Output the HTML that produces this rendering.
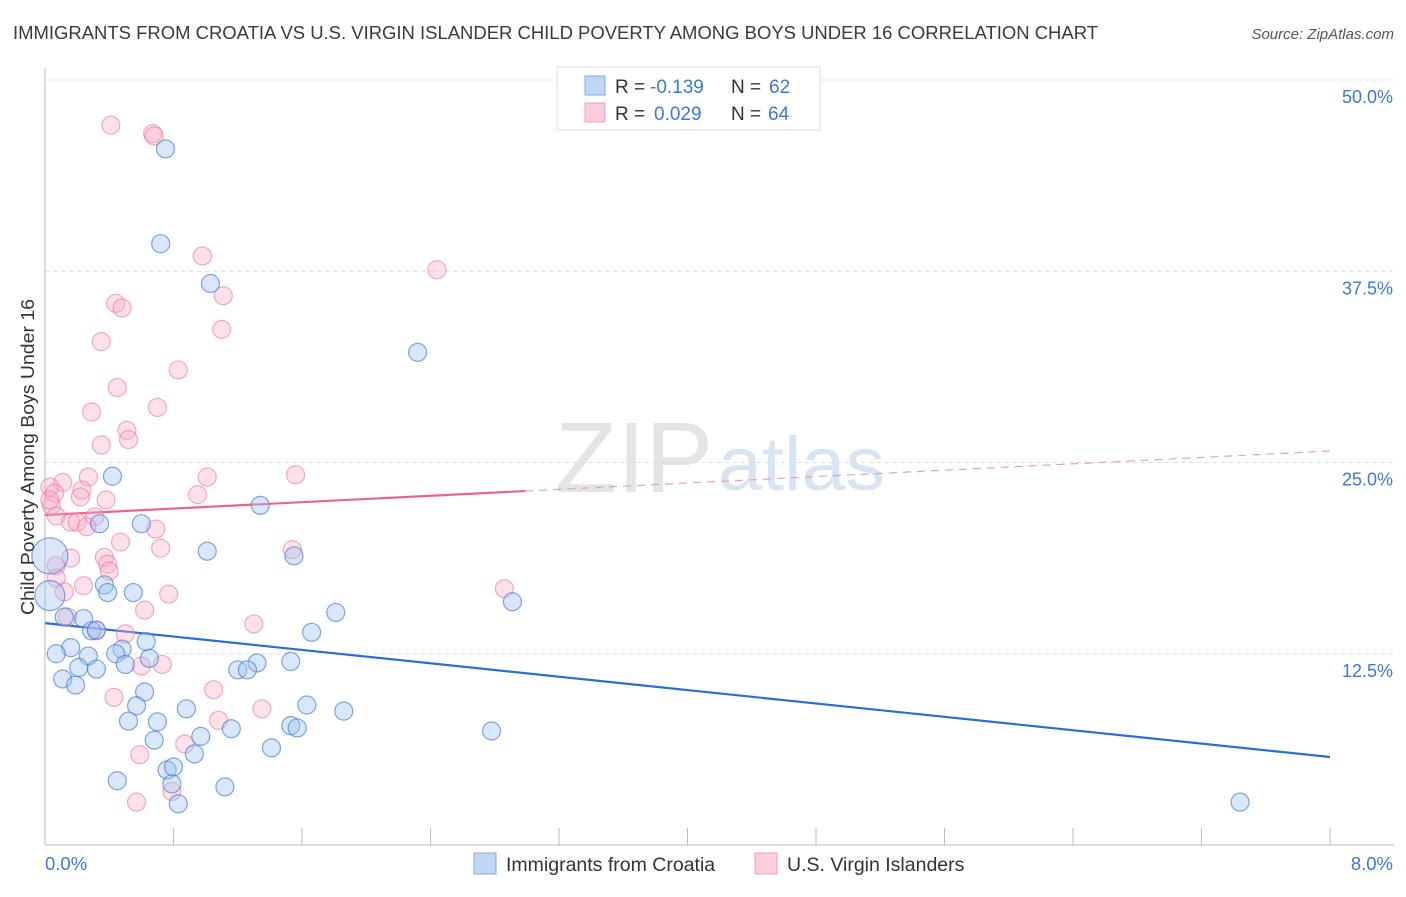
<!DOCTYPE html>
<html><head><meta charset="utf-8"><style>
body{margin:0;background:#fff;font-family:"Liberation Sans",sans-serif}
svg text{font-family:"Liberation Sans",sans-serif}
</style></head><body>
<svg id="chart" width="1406" height="892" xmlns="http://www.w3.org/2000/svg">
<text x="13" y="39" font-size="18" fill="#3a3a3a" textLength="1085" lengthAdjust="spacingAndGlyphs">IMMIGRANTS FROM CROATIA VS U.S. VIRGIN ISLANDER CHILD POVERTY AMONG BOYS UNDER 16 CORRELATION CHART</text>
<text x="1394" y="39" font-size="15" fill="#555" font-style="italic" text-anchor="end">Source: ZipAtlas.com</text>
<text x="555" y="492" font-size="100" fill="#e4e4e4" font-family="Liberation Serif" textLength="158" lengthAdjust="spacingAndGlyphs">ZIP</text>
<text x="718" y="490" font-size="76" fill="#d6e4f4" textLength="167" lengthAdjust="spacingAndGlyphs">atlas</text>
<g id="grid"></g><g id="axes"></g><g id="trend"></g><g id="pts"></g>
<text transform="translate(34,457) rotate(-90)" font-size="18" fill="#333" text-anchor="middle" textLength="316" lengthAdjust="spacingAndGlyphs">Child Poverty Among Boys Under 16</text>
<g>
<rect x="557" y="67" width="263" height="63" fill="#fff" stroke="#ddd"/>
<rect x="585" y="76" width="20" height="19" fill="#c0d6f5" stroke="#7fa8e0"/>
<rect x="585" y="103" width="20" height="19" fill="#fbccd9" stroke="#f0a0b8"/>
<text x="615" y="93" font-size="19" fill="#333">R =</text>
<text x="650" y="93" font-size="19" fill="#3b78d8">-0.139</text>
<text x="731" y="93" font-size="19" fill="#333">N =</text>
<text x="769" y="93" font-size="19" fill="#3b78d8">62</text>
<text x="615" y="120" font-size="19" fill="#333">R =</text>
<text x="654" y="120" font-size="19" fill="#3b78d8">0.029</text>
<text x="731" y="120" font-size="19" fill="#333">N =</text>
<text x="768" y="120" font-size="19" fill="#3b78d8">64</text>
</g>
<g>
<rect x="474" y="853" width="22" height="21" fill="#c0d6f5" stroke="#7fa8e0"/>
<text x="506" y="871" font-size="19.5" fill="#333">Immigrants from Croatia</text>
<rect x="755" y="853" width="22" height="21" fill="#fbccd9" stroke="#f0a0b8"/>
<text x="787" y="871" font-size="19.5" fill="#333">U.S. Virgin Islanders</text>
</g>
</svg>
<script>
const blueX=[0.75,0.72,1.03,2.32,0.42,1.34,0.60,0.34,1.01,1.55,0.03,0.03,0.37,0.55,0.39,2.91,1.81,0.12,0.24,1.66,0.29,0.63,0.16,0.32,0.48,0.07,0.27,0.44,0.65,1.53,1.32,0.21,0.32,0.50,1.20,1.26,0.11,0.19,0.62,1.63,0.88,0.57,1.86,0.52,0.70,1.16,1.53,1.57,2.78,0.97,0.68,0.93,1.41,0.76,0.80,0.45,0.79,1.12,0.83,7.44];
const blueY=[45.5,39.3,36.7,32.2,24.1,22.2,21.0,21.0,19.2,18.9,18.9,16.3,17.0,16.5,16.5,15.9,15.2,14.9,14.8,13.9,14.0,13.3,12.9,14.05,12.8,12.5,12.35,12.5,12.2,12.0,11.9,11.6,11.5,11.8,11.45,11.45,10.85,10.45,10.0,9.15,8.9,9.1,8.75,8.1,8.05,7.6,7.8,7.65,7.45,7.1,6.85,5.95,6.35,4.9,5.1,4.2,4.0,3.8,2.7,2.8];
const blueR=[9,9,9,9,9,9,9,9,9,9,18,15,9,9,9,9,9,9,9,9,9,9,9,9,9,9,9,9,9,9,9,9,9,9,9,9,9,9,9,9,9,9,9,9,9,9,9,9,9,9,9,9,9,9,9,9,9,9,9,9];
const pinkX=[0.41,0.67,0.68,0.98,2.44,1.11,0.44,0.48,0.35,1.10,0.83,0.45,0.29,0.70,0.51,0.35,0.52,1.56,1.01,0.27,0.11,0.03,0.06,0.23,0.38,0.95,0.04,0.22,0.07,0.31,0.16,0.20,0.26,0.69,0.47,0.72,0.37,1.54,0.39,0.40,0.16,0.07,0.24,0.77,0.62,0.12,0.14,0.32,0.50,2.86,1.30,0.60,0.73,1.05,0.43,1.08,1.35,0.87,0.59,0.79,0.57,0.03,0.07];
const pinkY=[47.05,46.5,46.35,38.5,37.6,35.9,35.4,35.1,32.9,33.7,31.05,29.9,28.3,28.6,27.1,26.15,26.5,24.2,24.05,24.05,23.7,23.4,23.0,23.2,22.55,22.9,22.2,22.75,21.5,21.45,21.1,21.1,20.8,20.65,19.8,19.4,18.8,19.3,18.35,17.9,18.75,18.25,16.95,16.4,15.35,16.55,14.9,14.0,13.8,16.75,14.45,11.7,11.8,10.15,9.65,8.15,8.9,6.6,5.9,3.5,2.8,22.55,17.45];
const blueTrend=[14.5,5.75];
const pinkTrend=[21.57,25.75];
const pinkSolidEnd=2.99;
const yTicks=[12.5,25,37.5,50];
const yTickLabels=["12.5%","25.0%","37.5%","50.0%"];
const xTickCount=10;
const NS="http://www.w3.org/2000/svg";
const X=v=>45+v/8*1285, Y=v=>845-v*15.3;
function mk(tag,attrs,parent){const e=document.createElementNS(NS,tag);for(const k in attrs)e.setAttribute(k,attrs[k]);document.getElementById(parent).appendChild(e);return e;}
yTicks.forEach((t,i)=>{
 const l=mk('line',{x1:45,x2:1394,y1:Y(t),y2:Y(t),stroke:'#ddd','stroke-dasharray':'4,4'},'grid');
 
 
 const tx=mk('text',{x:1393,y:Y(t)+23,'font-size':18,fill:'#3b78d8','text-anchor':'end'},'grid');
 tx.textContent=yTickLabels[i];
 
 
});
const ax=mk('line',{x1:45,x2:45,y1:68,y2:845,stroke:'#bbb'},'axes');


const bx=mk('line',{x1:45,x2:1394,y1:845,y2:845,stroke:'#bbb'},'axes');


for(let i=1;i<=xTickCount;i++){const v=i*8/xTickCount;
 const t=mk('line',{x1:X(v),x2:X(v),y1:828,y2:845,stroke:'#bbb'},'axes');
 
 }
const x0=mk('text',{x:45,y:870,'font-size':18.5,fill:'#3b78d8'},'axes');x0.textContent='0.0%';


const x1=mk('text',{x:1393,y:870,'font-size':18.5,fill:'#3b78d8','text-anchor':'end'},'axes');x1.textContent='8.0%';


pinkX.forEach((v,i)=>{const c=mk('circle',{cx:X(v),cy:Y(pinkY[i]),r:9,fill:'rgba(248,170,195,0.35)',stroke:'rgba(235,120,155,0.6)','stroke-width':1.2},'pts');
 
 });
blueX.forEach((v,i)=>{const c=mk('circle',{cx:X(v),cy:Y(blueY[i]),r:blueR[i],fill:'rgba(160,195,240,0.4)',stroke:'rgba(60,120,215,0.65)','stroke-width':1.2},'pts');
 
 });
const bl=mk('line',{x1:X(0),y1:Y(blueTrend[0]),x2:X(8),y2:Y(blueTrend[1]),stroke:'#2a6fd6','stroke-width':2.2},'trend');


const py=v=>pinkTrend[0]+(pinkTrend[1]-pinkTrend[0])*v/8;
const pl=mk('line',{x1:X(0),y1:Y(py(0)),x2:X(pinkSolidEnd),y2:Y(py(pinkSolidEnd)),stroke:'#e8668e','stroke-width':2.2},'trend');


const pd=mk('line',{x1:X(pinkSolidEnd),y1:Y(py(pinkSolidEnd)),x2:X(8),y2:Y(py(8)),stroke:'#e8a0b5','stroke-width':1.2,'stroke-dasharray':'8,6'},'trend');


</script>
</body></html>
